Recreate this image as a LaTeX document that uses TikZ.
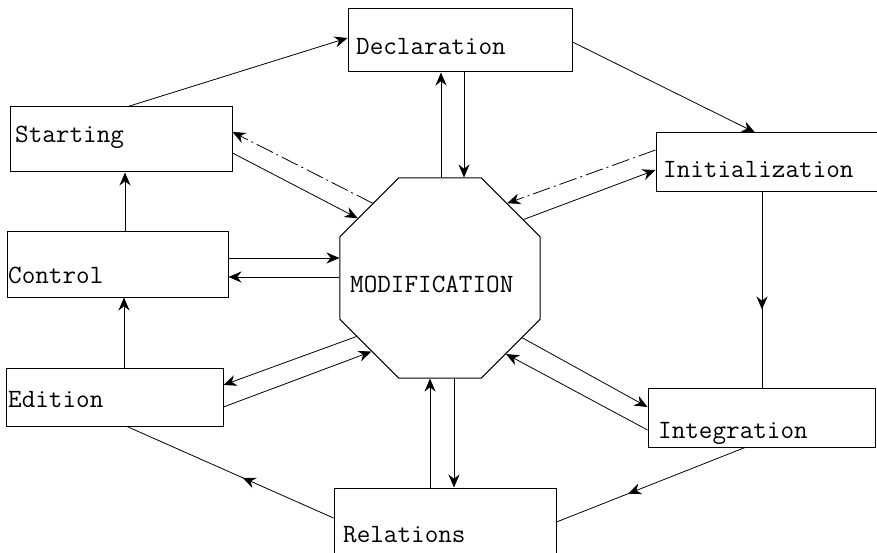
\documentclass[tikz,border=0pt]{standalone}
\usepackage{fontspec}
\usetikzlibrary{arrows.meta,shapes.geometric,decorations.markings}

\tikzset{
    box/.style={draw, line width=1pt, inner sep=0pt},
    lbl/.style={anchor=base west, inner sep=0pt, font=\ttfamily\fontsize{26.4}{26.4}\selectfont},
    conn/.style={line width=0.8pt, -{Stealth[length=13pt,width=11pt]}},
    dashdot/.style={dash pattern=on 18pt off 4pt on 2pt off 4pt},
    midarrow/.style={line width=0.8pt, postaction={decorate}, decoration={markings,
        mark=at position #1 with {\arrow{Stealth[length=13pt,width=11pt]}}}}
}

\begin{document}
\begin{tikzpicture}[x=1pt, y=-1pt]
    \useasboundingbox (0,0) rectangle (877,553);
    \node[box, minimum width=224pt, minimum height=63pt] (decl) at (460,40.5) {};
    \node[box, minimum width=222pt, minimum height=65pt] (start) at (121,139.5) {};
    \node[box, minimum width=234pt, minimum height=59pt] (init) at (773,162.5) {};
    \node[box, minimum width=221pt, minimum height=65pt] (ctrl) at (117.5,264.5) {};
    \node[box, minimum width=217pt, minimum height=58pt] (edit) at (114.5,397) {};
    \node[box, minimum width=227pt, minimum height=59pt] (integ) at (761.5,417.5) {};
    \node[box, minimum width=222pt, minimum height=72pt] (rel) at (445,524) {};
    \node[box, regular polygon, regular polygon sides=8, minimum size=216.5pt] (mod) at (440,278) {};
    \node[lbl] (decl-t) at (356,55) {Declaration};
    \node[lbl] (start-t) at (15,143) {Starting};
    \node[lbl] (init-t) at (663,178) {Initialization};
    \node[lbl] (ctrl-t) at (8,283) {Control};
    \node[lbl] (mod-t) at (350,292) {MODIFICATION};
    \node[lbl] (edit-t) at (8,407) {Edition};
    \node[lbl] (integ-t) at (658,438) {Integration};
    \node[lbl] (rel-t) at (343,542) {Relations};
    \draw[conn] ([xshift=7pt]start.north) -- ([yshift=2.5pt]decl.west);
    \draw[conn] ([yshift=-1.5pt]decl.east) -- ([xshift=-18pt]init.north);
    \draw[midarrow=0.6] ([xshift=-11pt]init.south) -- ([xshift=-11pt]init.south |- integ.north);
    \draw[midarrow=0.62] ([xshift=-16.5pt]integ.south) -- ([yshift=2pt]rel.east);
    \draw[midarrow=0.44] ([yshift=6pt]rel.west) -- ([xshift=12.5pt]edit.south);
    \draw[conn] ([xshift=9.5pt]edit.north) -- ([xshift=9.5pt]edit.north |- ctrl.south);
    \draw[conn] ([xshift=7.5pt]ctrl.north) -- ([xshift=7.5pt]ctrl.north |- start.south);
    \draw[conn] ([xshift=1pt]mod.north) -- ([xshift=1pt]mod.north |- decl.south);
    \draw[conn] ([xshift=24pt]mod.north |- decl.south) -- ([xshift=24pt]mod.north);
    \draw[conn, dashdot] (mod.132) -- ([yshift=7.5pt]start.east);
    \draw[conn] ([yshift=-13.5pt]start.east) -- (mod.144);
    \draw[conn] ([yshift=20pt]mod.west -| ctrl.east) -- ([yshift=20pt]mod.west);
    \draw[conn] ([yshift=1pt]mod.west) -- ([yshift=1pt]mod.west -| ctrl.east);
    \draw[conn] (mod.215) -- ([yshift=12pt]edit.east);
    \draw[conn] ([yshift=-10pt]edit.east) -- (mod.227);
    \draw[conn] ([xshift=-10pt]mod.south |- rel.north) -- ([xshift=-10pt]mod.south);
    \draw[conn] ([xshift=14pt]mod.south) -- ([xshift=14pt]mod.south |- rel.north);
    \draw[conn] (mod.324) -- ([yshift=10.5pt]integ.west);
    \draw[conn] ([yshift=-12.5pt]integ.west) -- (mod.311);
    \draw[conn, dashdot] ([yshift=12.5pt]init.west) -- (mod.48);
    \draw[conn] (mod.35) -- ([yshift=-7.5pt]init.west);
\end{tikzpicture}
\end{document}
